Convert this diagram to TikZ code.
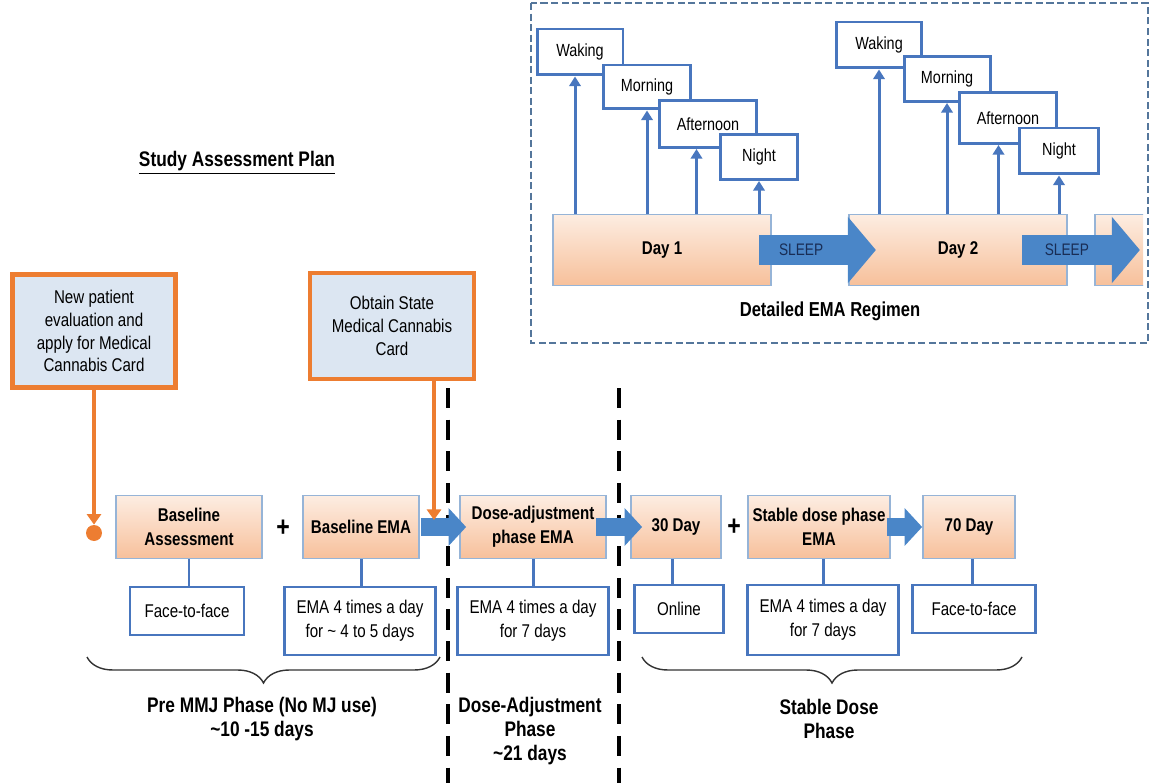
\documentclass[tikz,border=0pt]{standalone}
\usepackage{fontspec}
\setmainfont{Liberation Sans}[FakeStretch=0.82]
\usetikzlibrary{arrows.meta,decorations.pathreplacing}
\definecolor{boxblue}{RGB}{72,118,190}
\definecolor{edgeblue}{RGB}{150,180,215}
\definecolor{cardorange}{RGB}{237,125,49}
\definecolor{cardfill}{RGB}{220,230,242}
\definecolor{peachtop}{RGB}{253,237,226}
\definecolor{peachbot}{RGB}{247,192,155}
\definecolor{chevblue}{RGB}{74,134,200}
\definecolor{framegray}{RGB}{84,118,155}
\definecolor{sleepink}{RGB}{25,45,85}

\begin{document}
\begin{tikzpicture}[
    x=0.02cm, y=-0.02cm,
    card/.style={rectangle, draw=cardorange, line width=2.6pt, fill=cardfill, align=center, inner sep=0pt, font=\fontsize{10.5}{13}\selectfont},
    stage/.style={rectangle, draw=edgeblue, line width=1pt, top color=peachtop, bottom color=peachbot, align=center, inner sep=0pt, minimum height=1.26cm, font=\fontsize{10.5}{13.5}\selectfont\bfseries},
    mode/.style={rectangle, draw=boxblue, line width=1.6pt, fill=white, align=center, inner sep=0pt, font=\fontsize{10.5}{13.5}\selectfont},
    slot/.style={rectangle, draw=boxblue, line width=1.7pt, fill=white, inner sep=0pt, font=\fontsize{10}{12}\selectfont},
    day/.style={rectangle, draw=edgeblue, line width=1pt, top color=peachtop, bottom color=peachbot, inner sep=0pt, minimum width=4.37cm, minimum height=1.42cm, font=\fontsize{10.5}{12}\selectfont\bfseries},
    link/.style={draw=boxblue, line width=1.7pt},
    tick/.style={draw=boxblue, line width=1.7pt, -{Triangle[width=6.5pt,length=5.5pt]}},
    chevron/.style={draw=chevblue, line width=10pt, -{Triangle[width=21pt,length=10pt]}},
    sleeparrow/.style={draw=chevblue, line width=17.5pt, -{Triangle[width=37pt,length=16pt]}},
    cardarrow/.style={draw=cardorange, line width=2.6pt, -{Triangle[width=8pt,length=6pt]}},
    divider/.style={line width=2.8pt, dash pattern=on 11.5pt off 6.5pt},
    plus/.style={font=\fontsize{16}{16}\selectfont\bfseries},
    phase/.style={align=center, font=\fontsize{12}{13.6}\selectfont\bfseries},
    phasebrace/.style={decorate, decoration={brace, mirror, amplitude=0.52cm}, line width=0.8pt, draw=black!80}
]
    \useasboundingbox (0,0) rectangle (1151,783);

    % detailed EMA regimen
    \draw[framegray, line width=1.1pt, dash pattern=on 4pt off 2pt] (531,3) rectangle (1148,343);
    \node[day] (day1) at (662,250) {Day 1};
    \node[day] (day2) at (958,250) {Day 2};
    \begin{scope}
        \clip (531,3) rectangle (1143,343);
        \node[day] (day3) at (1204,250) {};
    \end{scope}
    \draw[sleeparrow] ([xshift=-0.26cm]day1.east) -- ([xshift=0.56cm]day2.west)
        node[pos=0.36, text=sleepink, font=\fontsize{9.5}{10}\selectfont] (sleepa) {SLEEP};
    \draw[sleeparrow] ([xshift=-0.92cm]day2.east) -- ([xshift=0.92cm]day3.west)
        node[pos=0.38, text=sleepink, font=\fontsize{9.5}{10}\selectfont] (sleepb) {SLEEP};

    \node[slot, minimum width=1.72cm, minimum height=0.92cm] (wake1) at (580,52) {Waking};
    \node[slot, minimum width=1.74cm, minimum height=0.88cm] (morn1) at (647,87) {Morning};
    \node[slot, minimum width=1.94cm, minimum height=0.94cm] (aft1) at (708,124) {Afternoon};
    \node[slot, minimum width=1.54cm, minimum height=0.90cm] (nigh1) at (759,157) {Night};
    \node[slot, minimum width=1.70cm, minimum height=0.92cm] (wake2) at (879,45) {Waking};
    \node[slot, minimum width=1.72cm, minimum height=0.90cm] (morn2) at (947,79) {Morning};
    \node[slot, minimum width=1.94cm, minimum height=1.02cm] (aft2) at (1008,118) {Afternoon};
    \node[slot, minimum width=1.58cm, minimum height=0.92cm] (nigh2) at (1059,151) {Night};

    \coordinate (wk1) at ([xshift=-0.1cm]wake1.south);
    \coordinate (af1) at ([xshift=-0.23cm]aft1.south);
    \coordinate (af2) at ([xshift=-0.19cm]aft2.south);
    \draw[tick] (day1.north -| wk1) -- (wk1);
    \draw[tick] (day1.north -| morn1.south) -- (morn1.south);
    \draw[tick] (day1.north -| af1) -- (af1);
    \draw[tick] (day1.north -| nigh1.south) -- (nigh1.south);
    \draw[tick] (day2.north -| wake2.south) -- (wake2.south);
    \draw[tick] (day2.north -| morn2.south) -- (morn2.south);
    \draw[tick] (day2.north -| af2) -- (af2);
    \draw[tick] (day2.north -| nigh2.south) -- (nigh2.south);

    \node[font=\fontsize{11.5}{14}\selectfont\bfseries] (regimen) at (830,311) {Detailed EMA Regimen};

    % study plan
    \node[font=\fontsize{12}{14}\selectfont\bfseries] (plan) at (237,163) {\underline{Study Assessment Plan}};

    \node[card, minimum width=3.26cm, minimum height=2.26cm] (newpat) at (94,331) {New patient\\evaluation and\\apply for Medical\\Cannabis Card};
    \node[card, minimum width=3.28cm, minimum height=2.12cm] (obtain) at (392,326) {Obtain State\\Medical Cannabis\\Card};
    \node[circle, fill=cardorange, inner sep=0pt, minimum size=0.32cm] (start) at (94,533) {};
    \coordinate (cardend) at (434,520);

    \draw[divider] (448,388) -- (448,783);
    \draw[divider] (619,388) -- (619,783);

    \node[stage, minimum width=2.92cm] (basel) at (189,527) {Baseline\\Assessment};
    \node[plus] (plusa) at (283,528) {+};
    \node[stage, minimum width=2.32cm] (bema) at (361,527) {Baseline EMA};
    \node[stage, minimum width=2.92cm] (dose) at (533,527) {Dose-adjustment\\phase EMA};
    \node[stage, minimum width=1.80cm] (d30) at (676,527) {30 Day};
    \node[plus] (plusb) at (734,527) {+};
    \node[stage, minimum width=2.84cm] (stab) at (819,527) {Stable dose phase\\EMA};
    \node[stage, minimum width=1.84cm] (d70) at (969,527) {70 Day};

    \node[mode, minimum width=2.28cm, minimum height=0.96cm] (f2fa) at (187,611) {Face-to-face};
    \node[mode, minimum width=3.02cm, minimum height=1.36cm] (emaa) at (360,621) {EMA 4 times a day\\for \textasciitilde{} 4 to 5 days};
    \node[mode, minimum width=3.02cm, minimum height=1.36cm] (emab) at (533,621) {EMA 4 times a day\\for 7 days};
    \node[mode, minimum width=1.78cm, minimum height=0.96cm] (onl) at (679,609) {Online};
    \node[mode, minimum width=3.02cm, minimum height=1.40cm] (emac) at (823,620) {EMA 4 times a day\\for 7 days};
    \node[mode, minimum width=2.46cm, minimum height=0.96cm] (f2fb) at (974,609) {Face-to-face};

    \draw[link] (basel.south) -- (basel.south |- f2fa.north);
    \draw[link] (bema.south) -- (bema.south |- emaa.north);
    \draw[link] (dose.south) -- (dose.south |- emab.north);
    \draw[link] ([xshift=-0.08cm]d30.south) -- ([xshift=-0.08cm]d30.south |- onl.north);
    \draw[link] (emac.north) -- (emac.north |- stab.south);
    \draw[link] (f2fb.north -| 972,0) -- (d70.south -| 972,0);

    \draw[chevron] ([xshift=0.02cm]bema.east) -- ([xshift=0.14cm]dose.west);
    \draw[chevron] ([xshift=-0.22cm]dose.east) -- ([xshift=0.24cm]d30.west);
    \draw[chevron] ([xshift=-0.08cm]stab.east) -- (d70.west);

    \draw[cardarrow] (newpat) -- (start);
    \draw[cardarrow] (obtain.south -| cardend) -- (cardend);

    % phases
    \draw[phasebrace] (87,657) -- (440,657);
    \draw[phasebrace] (642,657) -- (1022,657);
    \node[phase] (premmj) at (262,719) {Pre MMJ Phase (No MJ use)\\\textasciitilde10 -15 days};
    \node[phase] (doseph) at (530,731) {Dose-Adjustment\\Phase\\\textasciitilde21 days};
    \node[phase] (stableph) at (829,719) {Stable Dose\\Phase};
\end{tikzpicture}
\end{document}
